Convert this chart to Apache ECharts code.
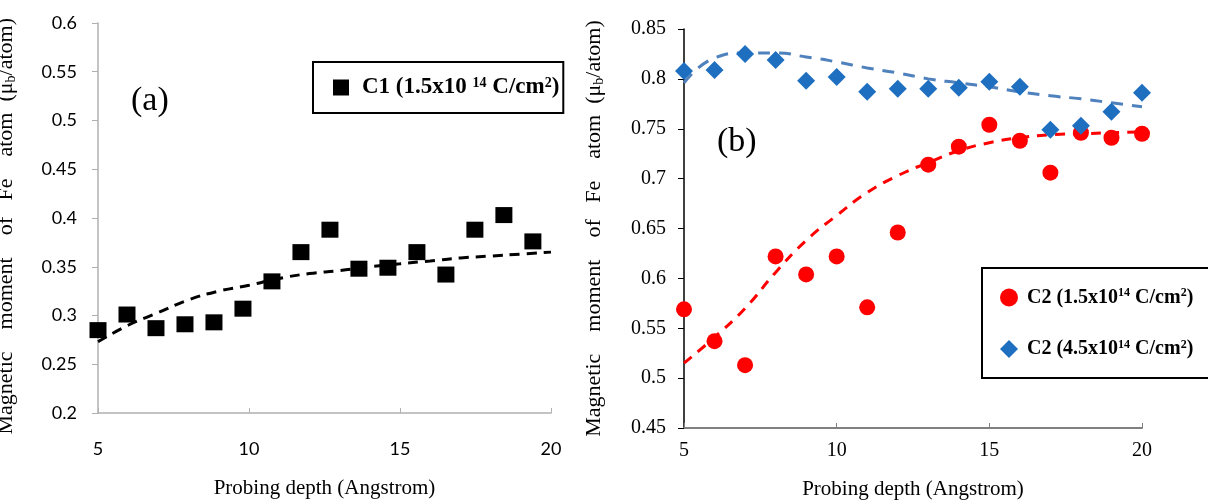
<!DOCTYPE html>
<html>
<head>
<meta charset="utf-8">
<script src="https://cdn.jsdelivr.net/npm/echarts@6/dist/echarts.min.js"></script>
<style>
  html, body { margin: 0; padding: 0; background: #fff; }
  #chart { width: 1208px; height: 500px; }
</style>
</head>
<body>
<div id="chart"></div>
<script>
// panel (a)
var depthA = [5, 5.96, 6.92, 7.88, 8.84, 9.8, 10.76, 11.72, 12.68, 13.64, 14.6, 15.56, 16.52, 17.48, 18.44, 19.4];
var momentC1 = [0.285, 0.301, 0.287, 0.291, 0.293, 0.307, 0.335, 0.365, 0.388, 0.348, 0.349, 0.365, 0.342, 0.388, 0.403, 0.376];
var trendDepthA = [5, 6, 7, 8, 9, 10, 11, 12, 13, 14, 15, 16, 17, 18, 19, 20];
var trendC1 = [0.273, 0.29, 0.303, 0.316, 0.325, 0.331, 0.338, 0.343, 0.346, 0.35, 0.353, 0.356, 0.359, 0.361, 0.363, 0.365];

// panel (b)
var depthB = [5, 6, 7, 8, 9, 10, 11, 12, 13, 14, 15, 16, 17, 18, 19, 20];
var momentC2Low = [0.569, 0.537, 0.513, 0.622, 0.604, 0.622, 0.571, 0.646, 0.714, 0.732, 0.754, 0.738, 0.706, 0.746, 0.741, 0.745];
var momentC2High = [0.808, 0.809, 0.825, 0.819, 0.798, 0.802, 0.787, 0.790, 0.790, 0.791, 0.797, 0.792, 0.749, 0.753, 0.767, 0.786];
var trendC2Low = [0.515, 0.541, 0.570, 0.606, 0.638, 0.663, 0.686, 0.703, 0.716, 0.728, 0.736, 0.741, 0.744, 0.745, 0.746, 0.747];
var trendC2High = [0.796, 0.821, 0.826, 0.826, 0.822, 0.817, 0.811, 0.806, 0.800, 0.796, 0.792, 0.787, 0.783, 0.780, 0.776, 0.772];

var yTitle = '{n|Magnetic    moment    of   Fe    atom  (μ}{sub|b}{n|/atom)}';
var serif = 'Liberation Serif';

function pairs(xs, ys) {
    return xs.map(function (x, i) { return [x, ys[i]]; });
}

var titleRich = {
    n: { fontFamily: serif, fontSize: 22, color: '#000' },
    sub: { fontFamily: serif, fontSize: 14, color: '#000', verticalAlign: 'bottom', padding: [9, 0, 0, 0] }
};
function legendRich(size) {
    return {
        n: { fontFamily: serif, fontSize: size, fontWeight: 'bold', color: '#000' },
        sup: { fontFamily: serif, fontSize: Math.round(size * 0.62), fontWeight: 'bold', color: '#000', verticalAlign: 'top', padding: [0, 0, 9, 0] }
    };
}
var legendNames = {
    'C1 low': '{n|C1 (1.5x10 }{sup|14}{n| C/cm}{sup|2}{n|)}',
    'C2 low': '{n|C2 (1.5x10}{sup|14}{n| C/cm}{sup|2}{n|)}',
    'C2 high': '{n|C2 (4.5x10}{sup|14}{n| C/cm}{sup|2}{n|)}'
};

var chart = echarts.init(document.getElementById('chart'));
chart.setOption({
    animation: false,
    backgroundColor: '#fff',
    grid: [
        { left: 98, top: 23, width: 453, height: 390, outerBoundsMode: 'none' },
        { left: 684, top: 29, width: 458, height: 399, outerBoundsMode: 'none' }
    ],
    xAxis: [{
        gridIndex: 0, type: 'value', min: 5, max: 20, interval: 5,
        name: 'Probing depth (Angstrom)', nameLocation: 'middle', nameGap: 65,
        nameTextStyle: { fontFamily: serif, fontSize: 21, color: '#000' },
        axisLine: { lineStyle: { color: '#b0b0b0', width: 1.5 } },
        axisTick: { inside: true, length: 5, lineStyle: { color: '#b0b0b0' } },
        axisLabel: { margin: 27, fontFamily: 'Lato', fontSize: 18, color: '#000' },
        splitLine: { show: false }
    }, {
        gridIndex: 1, type: 'value', min: 5, max: 20, interval: 5,
        name: 'Probing depth (Angstrom)', nameLocation: 'middle', nameGap: 51,
        nameTextStyle: { fontFamily: serif, fontSize: 21, color: '#000' },
        axisLine: { lineStyle: { color: '#808080', width: 2 } },
        axisTick: { inside: true, length: 5, lineStyle: { color: '#808080' } },
        axisLabel: { margin: 13, fontFamily: serif, fontSize: 20, color: '#000' },
        splitLine: { show: false }
    }],
    yAxis: [{
        gridIndex: 0, type: 'value', min: 0.2, max: 0.6, interval: 0.05,
        name: yTitle + '{n|   }', nameLocation: 'middle', nameGap: 80,
        nameTextStyle: { rich: titleRich },
        axisLine: { show: true, lineStyle: { color: '#b0b0b0', width: 1.5 } },
        axisTick: { show: true, length: 6, lineStyle: { color: '#b0b0b0' } },
        axisLabel: { margin: 21, fontFamily: 'Lato', fontSize: 18, color: '#000' },
        splitLine: { show: false }
    }, {
        gridIndex: 1, type: 'value', min: 0.45, max: 0.85, interval: 0.05,
        name: yTitle, nameLocation: 'middle', nameGap: 78,
        nameTextStyle: { rich: titleRich },
        axisLine: { show: true, lineStyle: { color: '#000', width: 1.5 } },
        axisTick: { show: true, length: 6, lineStyle: { color: '#000' } },
        axisLabel: { margin: 18, fontFamily: serif, fontSize: 20, color: '#000' },
        splitLine: { show: false }
    }],
    legend: [{
        data: ['C1 low'], left: 313, top: 62, orient: 'vertical',
        padding: [14, 4, 14, 20], borderColor: '#000', borderWidth: 2,
        itemWidth: 16, itemHeight: 16, itemGap: 10,
        formatter: function (name) { return legendNames[name]; },
        textStyle: { rich: legendRich(23), padding: [0, 0, 0, 8] }
    }, {
        data: ['C2 low', 'C2 high'], left: 982, top: 268, orient: 'vertical',
        padding: [19, 60, 19, 18], borderColor: '#000', borderWidth: 2,
        itemWidth: 18, itemHeight: 18, itemGap: 31,
        formatter: function (name) { return legendNames[name]; },
        textStyle: { rich: legendRich(20), padding: [0, 0, 0, 4] }
    }],
    graphic: [
        { type: 'text', left: 131, top: 84, style: { text: '(a)', fontFamily: serif, fontSize: 34, fill: '#000' } },
        { type: 'text', left: 717, top: 125, style: { text: '(b)', fontFamily: serif, fontSize: 34, fill: '#000' } }
    ],
    series: [{
        name: 'C1 trend', type: 'line', xAxisIndex: 0, yAxisIndex: 0,
        data: pairs(trendDepthA, trendC1), smooth: true, showSymbol: false, z: 1,
        lineStyle: { color: '#000', width: 3, type: [10, 7] }
    }, {
        name: 'C1 low', type: 'scatter', xAxisIndex: 0, yAxisIndex: 0,
        data: pairs(depthA, momentC1), symbol: 'rect', symbolSize: [17, 16], z: 2,
        itemStyle: { color: '#000', opacity: 1 }
    }, {
        name: 'C2 low trend', type: 'line', xAxisIndex: 1, yAxisIndex: 1,
        data: pairs(depthB, trendC2Low), smooth: true, showSymbol: false, z: 1,
        lineStyle: { color: '#ff0000', width: 3, type: [10, 8] }
    }, {
        name: 'C2 high trend', type: 'line', xAxisIndex: 1, yAxisIndex: 1,
        data: pairs(depthB, trendC2High), smooth: true, showSymbol: false, z: 1,
        lineStyle: { color: '#4f81bd', width: 3, type: [12, 9] }
    }, {
        name: 'C2 low', type: 'scatter', xAxisIndex: 1, yAxisIndex: 1,
        data: pairs(depthB, momentC2Low), symbol: 'circle', symbolSize: 16, z: 2,
        itemStyle: { color: '#ff0000', opacity: 1 }
    }, {
        name: 'C2 high', type: 'scatter', xAxisIndex: 1, yAxisIndex: 1,
        data: pairs(depthB, momentC2High), symbol: 'diamond', symbolSize: 18, z: 2,
        itemStyle: { color: '#1f6fc0', opacity: 1 }
    }]
});
</script>
</body>
</html>
